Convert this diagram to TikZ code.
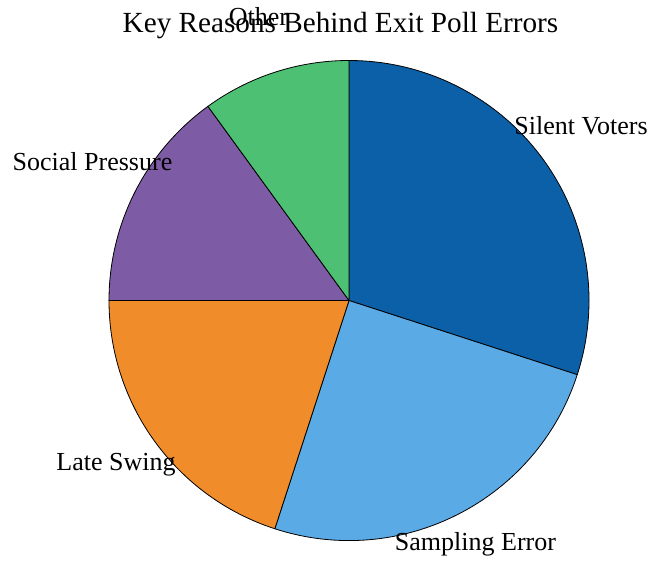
\documentclass[tikz,border=0pt]{standalone}
\usepackage{fontspec}
\setmainfont{Liberation Serif}
\begin{document}
\begin{tikzpicture}[x=1pt,y=1pt]
\definecolor{fillColor}{RGB}{255,255,255}
\path[use as bounding box,fill=fillColor,fill opacity=0.00] (0,0) rectangle (652,566);
\begin{scope}
\definecolor{drawColor}{RGB}{0,0,0}
\definecolor{fillColor}{RGB}{11,96,168}

\path[draw=drawColor,line width= 0.8pt,line join=round,fill=fillColor] (349.00,265.50) --
	++( 90:240) arc[start angle= 90,end angle= -18,radius=240] -- cycle;
\definecolor{fillColor}{RGB}{90,170,230}

\path[draw=drawColor,line width= 0.8pt,line join=round,fill=fillColor] (349.00,265.50) --
	++(-18:240) arc[start angle=-18,end angle=-108,radius=240] -- cycle;
\definecolor{fillColor}{RGB}{240,140,42}

\path[draw=drawColor,line width= 0.8pt,line join=round,fill=fillColor] (349.00,265.50) --
	++(-108:240) arc[start angle=-108,end angle=-180,radius=240] -- cycle;
\definecolor{fillColor}{RGB}{126,91,165}

\path[draw=drawColor,line width= 0.8pt,line join=round,fill=fillColor] (349.00,265.50) --
	++(180:240) arc[start angle=180,end angle=126,radius=240] -- cycle;
\definecolor{fillColor}{RGB}{77,192,116}

\path[draw=drawColor,line width= 0.8pt,line join=round,fill=fillColor] (349.00,265.50) --
	++(126:240) arc[start angle=126,end angle= 90,radius=240] -- cycle;
\end{scope}
\begin{scope}
\definecolor{drawColor}{RGB}{0,0,0}

\node (silent) [text=drawColor,anchor=base,inner sep=0pt, outer sep=0pt, scale=  2.60] at (581.00,431.00) {Silent Voters};

\node (sampling) [text=drawColor,anchor=base,inner sep=0pt, outer sep=0pt, scale=  2.60] at (475.50, 16.00) {Sampling Error};

\node (late) [text=drawColor,anchor=base,inner sep=0pt, outer sep=0pt, scale=  2.60] at (116.00, 96.00) {Late Swing};

\node (social) [text=drawColor,anchor=base,inner sep=0pt, outer sep=0pt, scale=  2.60] at ( 92.50,396.00) {Social Pressure};

\node (other) [text=drawColor,anchor=base,inner sep=0pt, outer sep=0pt, scale=  2.60] at (258.50,540.00) {Other};
\end{scope}
\begin{scope}
\definecolor{drawColor}{RGB}{0,0,0}

\node (title) [text=drawColor,anchor=base,inner sep=0pt, outer sep=0pt, scale=  2.92] at (340.50,533.00) {Key Reasons Behind Exit Poll Errors};
\end{scope}
\end{tikzpicture}
\end{document}
